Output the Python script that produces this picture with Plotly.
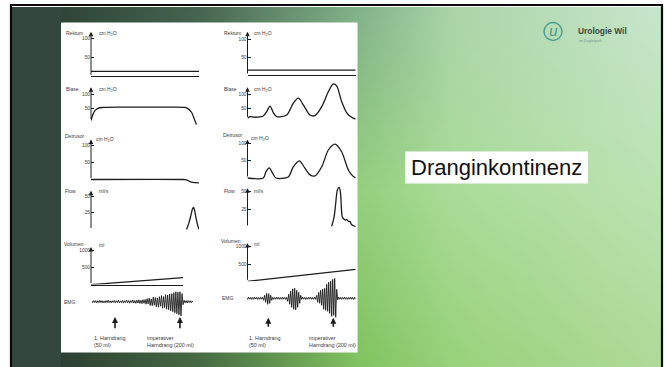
import base64, struct, zlib
import plotly.graph_objects as go

W, H = 667, 367

# ---------------- data ----------------
# left column: "normal" urodynamics, right column: urge incontinence
rektum_left_t = [0, 100]
rektum_left_v = [13, 13]
blase_left_t = [0, 1.5, 3.3, 6.4, 11.7, 30, 50, 70, 87, 90, 93.2, 95.6, 97.6]
blase_left_v = [6, 25, 40, 50, 53, 54, 54, 54, 53, 48, 35, 12, -8]
detrusor_left_t = [0, 85, 87, 89, 91, 93, 96, 100]
detrusor_left_v = [0, 0, -0.5, -2, -5, -7.5, -9, -9.5]
flow_left_t = [88.5, 90.5, 92.5, 94, 95, 96, 97.5, 99, 100]
flow_left_v = [0, 9, 21, 31, 33, 28, 15, 5, 0]
volumen_left_t = [0, 85.5]
volumen_left_v = [0, 200]
emg_left = [
    0.8, -1, 1.2, -0.8, 1, -1.1, 0.9, -1, 1.3, -0.9,
    1, -1.2, 0.8, -1, 1.1, -0.9, 1.4, -1, 0.9, -1.2,
    1, -0.8, 1.2, -1.1, 1, -0.9, 1.5, -1.2, 0.9, -1,
    1.3, -1.4, 1, -0.9, 1.6, -1.2, 1.1, -1.5, 1.2, -1,
    1.7, -1.4, 1.2, -1.6, 1.5, -1.3, 1.8, -1.7, 1.4, -1.9,
    2, -1.6, 2.2,
    -2.5, 3, -2.2, 3.5, -3.8, 2.8, -4, 4.5, -3.5, 4.2,
    -5, 3.8, -5.5, 5, -4.5, 6, -6.5, 5.2, -6, 7,
    -7.5, 6.5, -8, 7.5, -9, 8, -10, 9, -11, 10,
    -12, 9.5, -13, 10, -14, 8,
    -3, 1.5, -1.2, 1, -1.3, 1.1, -0.9, 1, -1.1, 0.8, -0.7]

rektum_right_t = [0, 100]
rektum_right_v = [14, 14]
blase_right_t = [0, 2.3, 6.9, 14.6, 17.7, 20.8, 23.9, 27, 36.2, 42.3, 47, 51.6, 57.8,
                 62.4, 68.6, 74.7, 79.3, 82.4, 87, 91.7, 96.3, 100]
blase_right_v = [14, 20, 18, 22.5, 38, 58, 34, 20, 26, 68, 86, 62, 26,
                 24, 56, 109, 137, 130, 74, 34, 18, 11]
detrusor_right_t = [0, 14.6, 17.1, 20.1, 23.3, 26.3, 37.7, 42.3, 47.9, 53.1, 57.8,
                    62.4, 68.6, 74.7, 80.9, 87, 93.2, 97.2, 100]
detrusor_right_v = [0, 0, 18, 29, 13, 0, 3, 32, 49, 28, 9,
                    6, 32, 80, 97, 75, 23, 6, 0]
flow_right_t = [77.8, 80, 81.5, 83, 84.6, 85.8, 86.7, 87.6, 89.2, 90.5, 91.7, 93.2,
                94.7, 96.3, 98.4, 100]
flow_right_v = [1, 14, 33, 52, 56, 50, 29, 14, 11, 9.5, 10.5, 8,
                7.5, 3, 1.3, 0.3]
volumen_right_t = [0, 100]
volumen_right_v = [0, 347]
emg_right = [
    0.8, -1, 1.1, -0.9, 1, -1.2, 0.9, -1, 1.2, -0.8, 1, -1.1, 0.9, -1, 1.2, -0.9, 1,
    -2, 3, -4, 5, -6, 4.5, -5, 3, -2,
    1, -1.1, 0.9, -1, 1.2, -0.9, 1, -1.1, 0.8, -1, 1.1, -0.9, 1, -1.2, 1,
    -3, 4, -6, 7, -9, 9.5, -11, 10, -11.5, 8, -9, 6, -5, 3,
    -1, 1.1, -0.9, 1, -1.2, 0.9, -1, 1.1, -0.8, 1, -1.1, 0.9, -1, 1.2, -1,
    3, -4, 6, -5, 8, -7, 9, -11, 10, -12, 14, -13, 16, -15, 17, -18, 19, -17, 20, -19, 9,
    -1.5, 1.2, -1, 0.9, -1.1, 1, -0.9, 1.2, -1, 0.8, -1.1, 1, -0.9, 1.1, -1, 0.9, -1.2, 1, -0.8]

pressure_ticks = [50, 100]
flow_ticks = [25, 50]
volume_ticks = [500, 1000]

urge_left_idx = [22.7, 86]      # EMG sample where the urge arrows point
urge_right_idx = [21.6, 86.6]
urge_labels = ["1. Harndrang<br>(50 ml)", "imperativer<br>Harndrang (200 ml)"]

channel_names = ["Rektum", "Blase", "Detrusor", "Flow", "Volumen", "EMG"]
channel_units = ["cm H<sub>2</sub>O", "cm H<sub>2</sub>O", "cm H<sub>2</sub>O", "ml/s", "ml"]
title_text = "Dranginkontinenz"
logo_text = "Urologie Wil"
logo_sub = "im Zieglerpark"

# ---------------- helpers ----------------
def X(px):
    return px / W

def Y(py):
    return 1 - py / H

FONT = "Liberation Sans, Arial, sans-serif"
INK = "#1c1c1c"
TXT = "#3a3a3a"

fig = go.Figure()
annotations = []
shapes = []

L_X0, L_PPU = 91.0, 1.08
R_X0, R_PPU = 247.5, 1.082
panels = [
    dict(t=rektum_left_t, v=rektum_left_v, x0=L_X0, ppu=L_PPU, xmax=100, yb=76.3, yt=28, p0=76.3, s=0.38,
         xline=True, ticks=pressure_ticks, arrow=(0, 117), shape="linear"),
    dict(t=blase_left_t, v=blase_left_v, x0=L_X0, ppu=L_PPU, xmax=100, yb=127, yt=80, p0=122.3, s=0.28,
         xline=False, ticks=pressure_ticks, arrow=(6, 125), shape="spline"),
    dict(t=detrusor_left_t, v=detrusor_left_v, x0=L_X0, ppu=L_PPU, xmax=100, yb=184, yt=136, p0=179.5, s=0.345,
         xline=False, ticks=pressure_ticks, arrow=(0, 116), shape="spline"),
    dict(t=flow_left_t, v=flow_left_v, x0=L_X0, ppu=L_PPU, xmax=100, yb=231, yt=186, p0=229.4, s=0.668,
         xline=False, ticks=flow_ticks, arrow=(0, 58), shape="spline"),
    dict(t=volumen_left_t, v=volumen_left_v, x0=L_X0, ppu=L_PPU, xmax=85.5, yb=284.6, yt=243, p0=284.6, s=0.0346,
         xline=True, ticks=volume_ticks, arrow=(0, 1087), shape="linear"),
    dict(t=rektum_right_t, v=rektum_right_v, x0=R_X0, ppu=R_PPU, xmax=100, yb=75, yt=28, p0=75, s=0.355,
         xline=True, ticks=pressure_ticks, arrow=(0, 122), shape="linear"),
    dict(t=blase_right_t, v=blase_right_v, x0=R_X0, ppu=R_PPU, xmax=100, yb=127, yt=78, p0=122.3, s=0.28,
         xline=False, ticks=pressure_ticks, arrow=(14, 125), shape="spline"),
    dict(t=detrusor_right_t, v=detrusor_right_v, x0=R_X0, ppu=R_PPU, xmax=100, yb=182, yt=135, p0=178, s=0.35,
         xline=False, ticks=pressure_ticks, arrow=(0, 110), shape="spline"),
    dict(t=flow_right_t, v=flow_right_v, x0=R_X0, ppu=R_PPU, xmax=100, yb=229, yt=184, p0=226.9, s=0.704,
         xline=False, ticks=flow_ticks, arrow=(0, 55), shape="spline"),
    dict(t=volumen_right_t, v=volumen_right_v, x0=R_X0, ppu=R_PPU, xmax=100, yb=281.3, yt=240, p0=281.3, s=0.0346,
         xline=False, ticks=volume_ticks, arrow=(0, 1110), shape="linear"),
]

layout_axes = {}
n = 0
for p in panels:
    n += 1
    xa = "x" if n == 1 else f"x{n}"
    ya = "y" if n == 1 else f"y{n}"
    xkey = "xaxis" if n == 1 else f"xaxis{n}"
    ykey = "yaxis" if n == 1 else f"yaxis{n}"
    x1 = p["x0"] + p["xmax"] * p["ppu"]
    layout_axes[xkey] = dict(domain=[X(p["x0"]), X(x1)], range=[0, p["xmax"]], anchor=ya,
                             showline=p["xline"], linecolor=INK, linewidth=1.1, showgrid=False,
                             zeroline=False, showticklabels=False, ticks="", fixedrange=True)
    lo = (p["p0"] - p["yb"]) / p["s"]
    hi = (p["p0"] - p["yt"]) / p["s"]
    layout_axes[ykey] = dict(domain=[Y(p["yb"]), Y(p["yt"])], range=[lo, hi], anchor=xa,
                             showline=False, showgrid=False, zeroline=False,
                             tickvals=p["ticks"], ticktext=[str(t) for t in p["ticks"]],
                             ticks="inside", ticklen=3, tickwidth=0.8, tickcolor=INK,
                             tickfont=dict(size=4.8, color=TXT, family=FONT), fixedrange=True)
    fig.add_trace(go.Scatter(x=p["t"], y=p["v"], mode="lines", xaxis=xa, yaxis=ya,
                             line=dict(color=INK, width=1.3, shape=p["shape"], smoothing=0.8),
                             hoverinfo="skip"))
    annotations.append(dict(x=0, y=p["arrow"][1], ax=0, ay=p["arrow"][0], xref=xa, yref=ya,
                            axref=xa, ayref=ya, showarrow=True, arrowhead=2, arrowsize=0.9,
                            arrowwidth=1.0, arrowcolor=INK, text="", standoff=0, startstandoff=0))

# EMG panels
emg_specs = [
    dict(v=emg_left, x0=91.7, x1=193.3, center=301.7, urge=urge_left_idx, tip=-15.3, tail=-28),
    dict(v=emg_right, x0=246.7, x1=355.7, center=298.3, urge=urge_right_idx, tip=-19.5, tail=-30),
]
for e in emg_specs:
    n += 1
    xa, ya = f"x{n}", f"y{n}"
    layout_axes[f"xaxis{n}"] = dict(domain=[X(e["x0"]), X(e["x1"])], range=[0, len(e["v"]) - 1],
                                    anchor=ya, visible=False, fixedrange=True)
    layout_axes[f"yaxis{n}"] = dict(domain=[Y(e["center"] + 32), Y(e["center"] - 20)], range=[-32, 20],
                                    anchor=xa, visible=False, fixedrange=True)
    fig.add_trace(go.Scatter(x=list(range(len(e["v"]))), y=e["v"], mode="lines", xaxis=xa, yaxis=ya,
                             line=dict(color=INK, width=0.9), hoverinfo="skip"))
    for idx in e["urge"]:
        annotations.append(dict(x=idx, y=e["tip"], ax=idx, ay=e["tail"], xref=xa, yref=ya,
                                axref=xa, ayref=ya, showarrow=True, arrowhead=2, arrowsize=0.75,
                                arrowwidth=1.6, arrowcolor=INK, text="", standoff=0, startstandoff=0))

def label(txt, px, py, size=5.0, xanchor="left", yanchor="middle", color=TXT, family=FONT, **kw):
    annotations.append(dict(text=txt, x=X(px), y=Y(py), xref="paper", yref="paper",
                            xanchor=xanchor, yanchor=yanchor, showarrow=False,
                            font=dict(size=size, color=color, family=family), align="left", **kw))

left_name_pos = [(64, 33.3), (64, 89.3), (62.5, 136), (63, 191), (61.5, 244), (62, 301.7)]
right_name_pos = [(221.7, 33), (221.7, 89.3), (221, 135), (221.7, 190.7), (219, 241.3), (219.5, 298.3)]
left_unit_pos = [(96.5, 33.3), (96.5, 89), (94.3, 139.5), (96.5, 191), (96.5, 245)]
right_unit_pos = [(251.5, 33), (251.5, 89), (249.3, 138), (251.5, 191), (252, 244)]
for name, pos in zip(channel_names, left_name_pos):
    label(name, *pos)
for name, pos in zip(channel_names, right_name_pos):
    label(name, *pos)
for u, pos in zip(channel_units, left_unit_pos):
    label(u, *pos)
for u, pos in zip(channel_units, right_unit_pos):
    label(u, *pos)

for txt, px in zip(urge_labels, [91.7, 145]):
    label(txt, px, 332.5, size=5.4, yanchor="top")
for txt, px in zip(urge_labels, [246.7, 306.7]):
    label(txt, px, 332.5, size=5.4, yanchor="top")

label(title_text, 496.5, 167.5, size=22, xanchor="center", color="#111111")

label("<i>u</i>", 553, 31.5, size=14, xanchor="center", color="#3f9a8b", family="DejaVu Sans, sans-serif")
label("<b>" + logo_text + "</b>", 575.5, 31.5, size=8.4, color="#3c4a44")
label(logo_sub, 576.5, 40.5, size=3.6, color="#6b9a8e")

# ---------------- slide background ----------------
def png_uri(w, h, rows):
    raw = b"".join(b"\x00" + bytes([c for px in row for c in px]) for row in rows)
    def chunk(t, d):
        return struct.pack(">I", len(d)) + t + d + struct.pack(">I", zlib.crc32(t + d) & 0xffffffff)
    png = (b"\x89PNG\r\n\x1a\n" + chunk(b"IHDR", struct.pack(">IIBBBBB", w, h, 8, 2, 0, 0, 0))
           + chunk(b"IDAT", zlib.compress(raw)) + chunk(b"IEND", b""))
    return "data:image/png;base64," + base64.b64encode(png).decode()

bg_xs = [61, 200, 357, 450, 661]
bg_ys = [7, 190, 367]
bg_cols = [
    [(47, 69, 56), (70, 100, 80), (130, 178, 138), (170, 212, 168), (200, 230, 205)],
    [(47, 69, 56), (78, 116, 82), (148, 208, 125), (170, 220, 152), (188, 226, 178)],
    [(44, 64, 50), (70, 106, 66), (128, 195, 95), (152, 210, 122), (176, 218, 152)],
]

def interp(a, b, f):
    return tuple(a[k] + (b[k] - a[k]) * f for k in range(3))

def bg_color(px, py):
    def seg(vals, v):
        for k in range(len(vals) - 1):
            if v <= vals[k + 1]:
                return k, (v - vals[k]) / (vals[k + 1] - vals[k])
        return len(vals) - 2, 1.0
    i, fx = seg(bg_xs, px)
    j, fy = seg(bg_ys, py)
    top = interp(bg_cols[j][i], bg_cols[j][i + 1], fx)
    bot = interp(bg_cols[j + 1][i], bg_cols[j + 1][i + 1], fx)
    c = interp(top, bot, fy)
    return tuple(int(round(min(255, max(0, v)))) for v in c)

IW, IH = 150, 90
rows = []
for r in range(IH):
    py = 7 + (r + 0.5) * (367 - 7) / IH
    rows.append([bg_color(61 + (c + 0.5) * (661 - 61) / IW, py) for c in range(IW)])

images = [dict(source=png_uri(IW, IH, rows), xref="paper", yref="paper", x=X(61), y=Y(7),
               sizex=X(661) - X(61), sizey=Y(7) - Y(367), sizing="stretch", layer="below",
               xanchor="left", yanchor="top")]

def rect(x0, y0, x1, y1, fill=None, line=None, lw=0, layer="below"):
    shapes.append(dict(type="rect", xref="paper", yref="paper", x0=X(x0), x1=X(x1), y0=Y(y1), y1=Y(y0),
                       fillcolor=fill if fill else "rgba(0,0,0,0)",
                       line=dict(color=line if line else "rgba(0,0,0,0)", width=lw), layer=layer))

rect(12, 7, 61, 367, fill="#33473d")          # dark side strip
rect(61, 22.5, 357.5, 352.5, fill="white")    # figure panel
rect(405, 151.5, 588, 183.5, fill="white")    # title box
rect(11, 5, 662, 380, line="#0a0a0a", lw=2.2)  # slide border
shapes.append(dict(type="circle", xref="paper", yref="paper", x0=X(544), x1=X(562), y0=Y(40.5),
                   y1=Y(22.5), line=dict(color="#4a9e90", width=1.4), layer="below"))

fig.update_layout(width=W, height=H, margin=dict(l=0, r=0, t=0, b=0), paper_bgcolor="white",
                  plot_bgcolor="rgba(0,0,0,0)", showlegend=False, annotations=annotations,
                  shapes=shapes, images=images, **layout_axes)

fig.write_html("out.html", config={"displayModeBar": False},
               post_script="document.body.style.margin='0';document.body.style.overflow='hidden';")
